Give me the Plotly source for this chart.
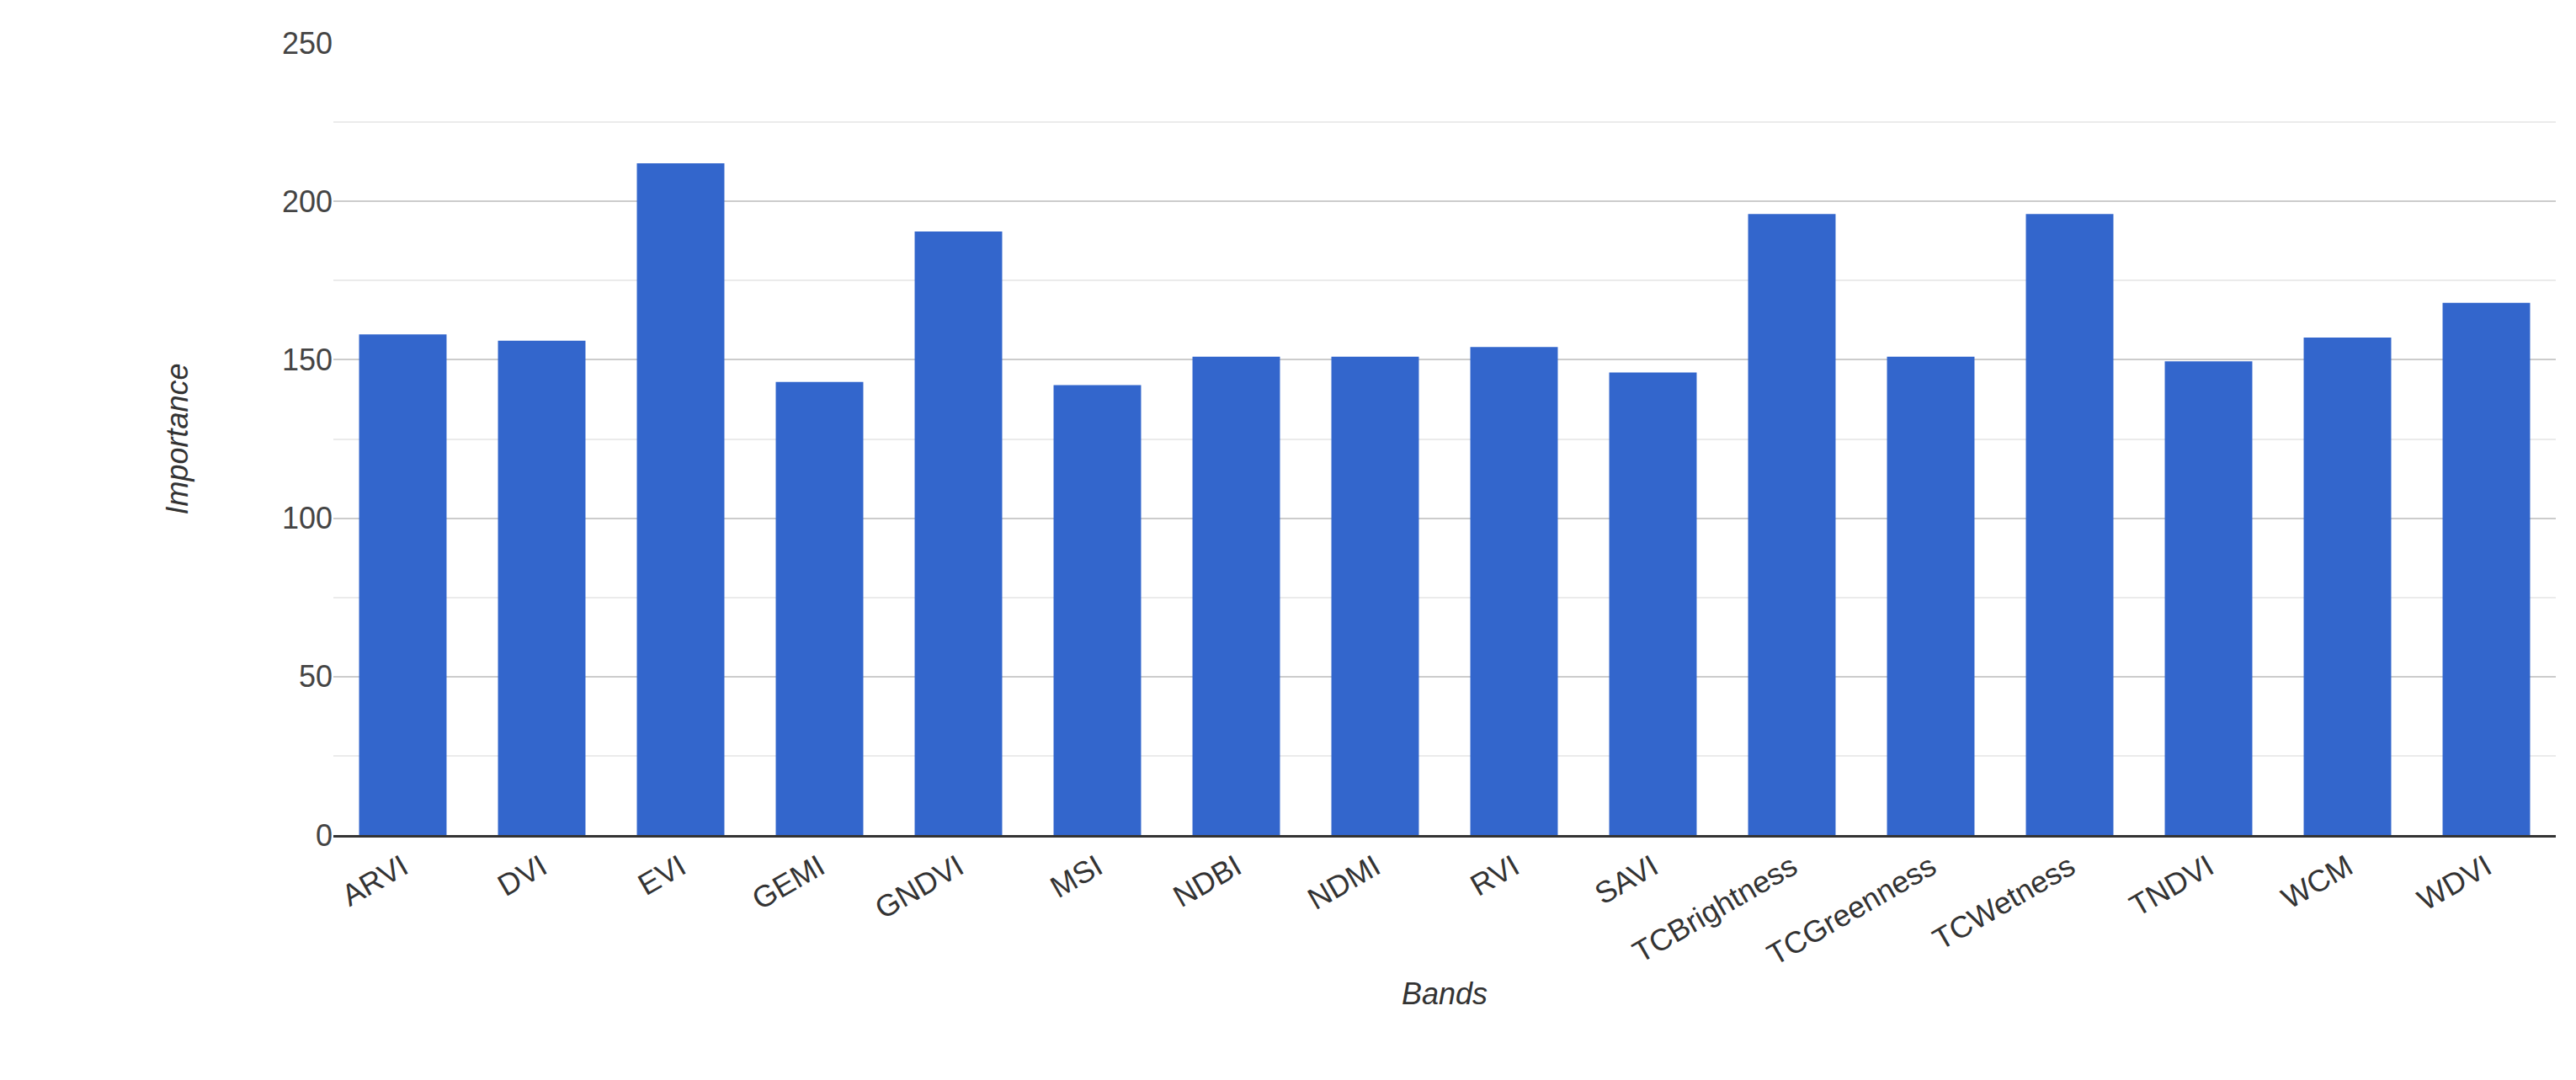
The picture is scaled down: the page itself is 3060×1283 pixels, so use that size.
import plotly.graph_objects as go

bands = ["ARVI","DVI","EVI","GEMI","GNDVI","MSI","NDBI","NDMI","RVI","SAVI",
         "TCBrightness","TCGreenness","TCWetness","TNDVI","WCM","WDVI"]
importance = [158,156,212,143,190.5,142,151,151,154,146,196,151,196,149.5,157,168]

fig = go.Figure(go.Bar(x=bands, y=importance, marker_color="#3366cc", marker_line_width=0))
fig.update_layout(
    width=3060, height=1283, plot_bgcolor="white", paper_bgcolor="white",
    margin=dict(l=388, r=32, t=43, b=299),
    bargap=0.37, showlegend=False,
    font=dict(family="Arial, Liberation Sans", size=36, color="#444"),
)
fig.update_xaxes(title=dict(text="<i>Bands</i>", font=dict(size=36, color="#333")),
                 tickangle=-30, showline=True, linecolor="#333", linewidth=3,
                 tickfont=dict(size=36, color="#333"))
fig.update_yaxes(title=dict(text="<i>Importance</i>", font=dict(size=36, color="#333"), standoff=100),
                 range=[0, 250], dtick=50, gridcolor="#cccccc", gridwidth=2,
                 minor=dict(dtick=25, showgrid=True, gridcolor="#ebebeb", gridwidth=2),
                 zeroline=False, tickfont=dict(size=36, color="#444"))
fig.write_html("out.html")
